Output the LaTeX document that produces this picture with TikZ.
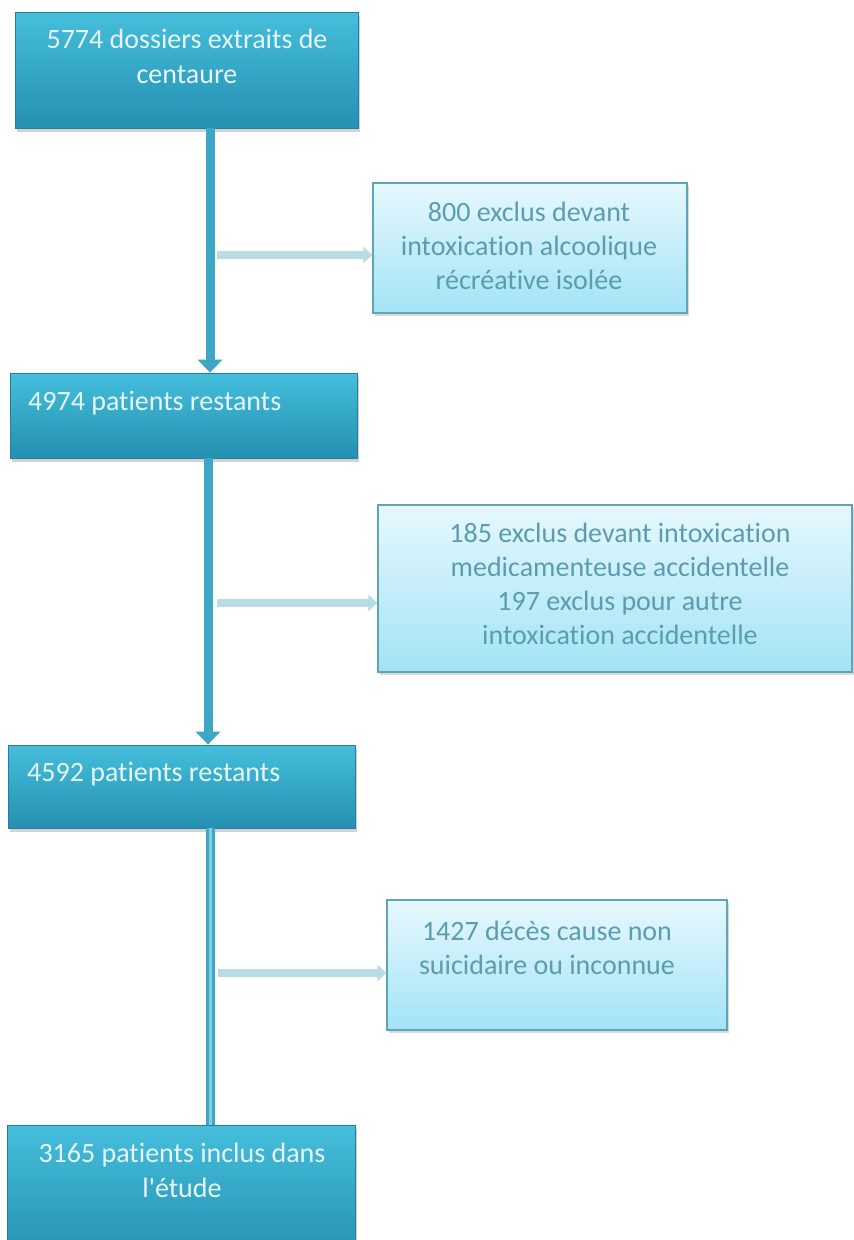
\documentclass[tikz,border=0pt]{standalone}
\usepackage{fontspec}
\setmainfont{Carlito}[Ligatures=CommonOff]
\usetikzlibrary{arrows.meta,shadows,calc}
\definecolor{dtop}{HTML}{45BEDC}
\definecolor{dbot}{HTML}{2590B1}
\definecolor{dedge}{HTML}{237F9C}
\definecolor{dtext}{HTML}{E6F6FA}
\definecolor{ltop}{HTML}{E6F8FD}
\definecolor{lbot}{HTML}{A3E3F6}
\definecolor{ledge}{HTML}{5EA5B8}
\definecolor{ltext}{HTML}{5A9DB0}
\definecolor{varrow}{HTML}{3DA7C5}
\definecolor{harrow}{HTML}{B7DCE5}
\definecolor{dmid}{HTML}{86CDE0}
\begin{document}
\begin{tikzpicture}[x=1pt,y=-1pt,
  darkbox/.style={draw=dedge,line width=0.8pt,top color=dtop,bottom color=dbot,
    drop shadow={opacity=0.35,shadow xshift=2pt,shadow yshift=-4pt},inner sep=0pt},
  lightbox/.style={draw=ledge,line width=1.2pt,top color=ltop,bottom color=lbot,
    drop shadow={opacity=0.3,shadow xshift=2pt,shadow yshift=-3pt},inner sep=0pt},
  darktext/.style={text=dtext,font=\fontsize{28}{35}\selectfont,align=center,inner sep=0pt},
  lighttext/.style={text=ltext,font=\fontsize{28}{34}\selectfont,align=center,inner sep=0pt},
  vconn/.style={draw=varrow,line width=9pt,-{Triangle[width=24pt,length=13pt]}},
  hconn/.style={draw=harrow,line width=8pt,-{Triangle[width=16pt,length=9pt]}},
  dconn/.style={draw=varrow,double=dmid,double distance=3pt,line width=3pt}
]
\useasboundingbox (0,0) rectangle (854,1240);
\fill[white] (0,0) rectangle (854,1240);

% main boxes
\node[darkbox,minimum width=343pt,minimum height=116pt] (b1) at (186.5,70) {};
\node[darktext] (t1) at (187,56) {5774 dossiers extraits de\\centaure};
\node[darkbox,minimum width=347pt,minimum height=85pt] (b2) at (183.5,415.5) {};
\node[darktext,anchor=west] (t2) at (28,403) {4974 patients restants};
\node[darkbox,minimum width=347pt,minimum height=83pt] (b3) at (181.5,786.5) {};
\node[darktext,anchor=west] (t3) at (27,774) {4592 patients restants};
\node[darkbox,minimum width=348pt,minimum height=135pt] (b4) at (181,1192.5) {};
\node[darktext] (t4) at (182,1170) {3165 patients inclus dans\\l\textquotesingle étude};

% side boxes
\node[lightbox,minimum width=314pt,minimum height=130pt] (s1) at (530,248) {};
\node[lighttext] (u1) at (529,246) {800 exclus devant\\intoxication alcoolique\\récréative isolée};
\node[lightbox,minimum width=474pt,minimum height=167pt] (s2) at (615,588.5) {};
\node[lighttext] (u2) at (620,584) {185 exclus devant intoxication\\medicamenteuse accidentelle\\197 exclus pour autre\\intoxication accidentelle};
\node[lightbox,minimum width=340pt,minimum height=130pt] (s3) at (557,965) {};
\node[lighttext] (u3) at (547,948) {1427 décès cause non\\suicidaire ou inconnue};

% connector columns and free ends
\coordinate (c1) at (210,0);
\coordinate (c2) at (208,0);
\coordinate (c3) at (210,0);
\coordinate (h1) at (217,255);
\coordinate (h2) at (217,603);
\coordinate (h3) at (218,973);

\draw[vconn] (b1.south -| c1) -- (b2.north -| c1);
\draw[vconn] (b2.south -| c2) -- (b3.north -| c2);
\draw[dconn] (b3.south -| c3) -- (b4.north -| c3);

\draw[hconn] (h1) -- (s1.west |- h1);
\draw[hconn] (h2) -- (s2.west |- h2);
\draw[hconn] (h3) -- (s3.west |- h3);
\end{tikzpicture}
\end{document}
